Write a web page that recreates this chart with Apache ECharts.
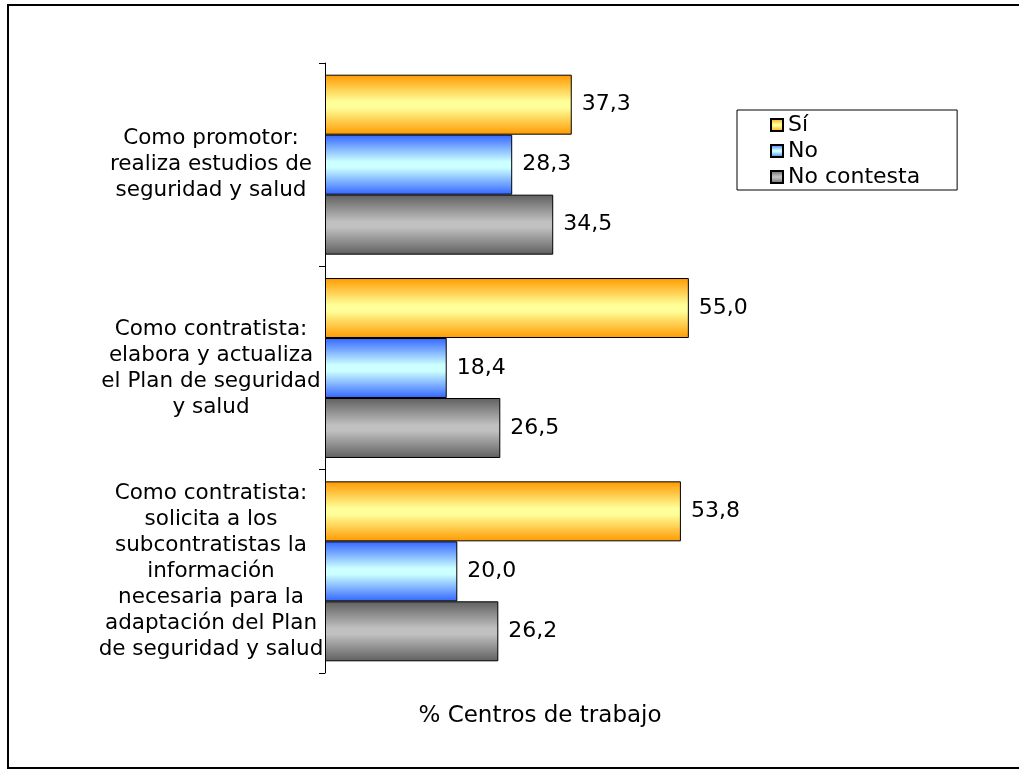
<!DOCTYPE html>
<html>
<head>
<meta charset="utf-8">
<script src="https://cdn.jsdelivr.net/npm/echarts@6/dist/echarts.min.js"></script>
<style>html,body{margin:0;padding:0;background:#fff;}#c{width:1019px;height:770px;}</style>
</head>
<body>
<div id="c"></div>
<script>
const categories = [
  'Como promotor:\nrealiza estudios de\nseguridad y salud',
  'Como contratista:\nelabora y actualiza\nel Plan de seguridad\ny salud',
  'Como contratista:\nsolicita a los\nsubcontratistas la\ninformación\nnecesaria para la\nadaptación del Plan\nde seguridad y salud'
];
const seriesNames = ['Sí', 'No', 'No contesta'];
const valuesSi = [37.3, 55.0, 53.8];
const valuesNo = [28.3, 18.4, 20.0];
const valuesNC = [34.5, 26.5, 26.2];
const axisTitle = '% Centros de trabajo';

const FONT = 'DejaVu Sans';
const FS = 22;
function grad(edge, mid) {
  return new echarts.graphic.LinearGradient(0, 0, 0, 1, [
    {offset: 0, color: edge},
    {offset: 0.45, color: mid},
    {offset: 0.55, color: mid},
    {offset: 1, color: edge}
  ]);
}
const colors = [grad('#FF9900', '#FFFF99'), grad('#3366FF', '#CCFFFF'), grad('#5F5F5F', '#C0C0C0')];
const data = [valuesSi, valuesNo, valuesNC];

const chart = echarts.init(document.getElementById('c'));
chart.setOption({
  animation: false,
  textStyle: {fontFamily: FONT},
  grid: {left: 325, top: 63, width: 430, height: 610},
  legend: {
    orient: 'vertical', left: 737, top: 110,
    padding: [4, 37, 2, 33], itemGap: 4,
    borderColor: '#000', borderWidth: 1,
    icon: 'rect', itemWidth: 12, itemHeight: 12,
    textStyle: {fontFamily: FONT, fontSize: FS, color: '#000'},
    data: seriesNames
  },
  xAxis: {
    type: 'value', min: 0, max: 65,
    axisLine: {show: false}, axisTick: {show: false}, axisLabel: {show: false},
    splitLine: {show: false},
    name: axisTitle, nameLocation: 'middle', nameGap: 32,
    nameTextStyle: {fontFamily: FONT, fontSize: 23, color: '#000'}
  },
  yAxis: {
    type: 'category', inverse: true, data: categories,
    axisLine: {lineStyle: {color: '#000', width: 1}},
    axisTick: {show: true, length: 6, lineStyle: {color: '#000'}},
    axisLabel: {fontFamily: FONT, fontSize: 21.5, color: '#000', lineHeight: 26, align: 'center', margin: 114},
    splitLine: {show: false}
  },
  graphic: [{
    type: 'rect', shape: {x: 8, y: 5, width: 1030, height: 763},
    style: {fill: 'none', stroke: '#000', lineWidth: 2}, silent: true
  }],
  series: seriesNames.map((n, i) => ({
    name: n, type: 'bar', data: data[i],
    barCategoryGap: '11.5%', barGap: '0%',
    itemStyle: {color: colors[i], borderColor: '#000', borderWidth: 1},
    label: {show: true, position: 'right', distance: 10, fontFamily: FONT, fontSize: FS, color: '#000',
      formatter: p => p.value.toFixed(1).replace('.', ',')}
  }))
});
</script>
</body>
</html>
